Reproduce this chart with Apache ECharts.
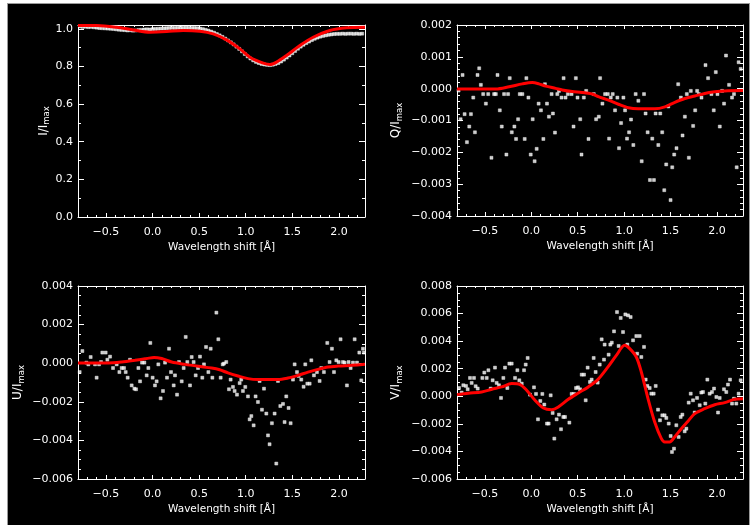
<!DOCTYPE html>
<html><head><meta charset="utf-8">
<script src="https://cdn.jsdelivr.net/npm/echarts@6/dist/echarts.min.js"></script>
<style>
html,body{margin:0;padding:0;background:#fff;}
#bg{position:absolute;left:7px;top:3px;width:743px;height:522px;background:#000;border-top:1px solid #9a9a9a;border-left:1px solid #9a9a9a;border-right:1px solid #9a9a9a;box-sizing:border-box;}
#chart{position:absolute;left:0;top:0;width:752px;height:525px;}
</style></head><body><div id="bg"></div><div id="chart"></div>
<script>
// ---------- data ----------
const xMajorTicks = [-0.5, 0.0, 0.5, 1.0, 1.5, 2.0];
const iMajorTicks = [0.0, 0.2, 0.4, 0.6, 0.8, 1.0];
const qMajorTicks = [-0.004, -0.003, -0.002, -0.001, 0.000, 0.001, 0.002];
const uMajorTicks = [-0.006, -0.004, -0.002, 0.000, 0.002, 0.004];
const vMajorTicks = [-0.006, -0.004, -0.002, 0.000, 0.002, 0.004, 0.006, 0.008];

const iX = [-0.78,-0.75,-0.72,-0.69,-0.66,-0.63,-0.60,-0.57,-0.54,-0.51,-0.48,-0.45,-0.42,-0.39,-0.36,-0.33,-0.30,-0.27,-0.24,-0.21,-0.18,-0.15,-0.12,-0.09,-0.06,-0.03,0.00,0.03,0.06,0.09,0.12,0.15,0.18,0.21,0.24,0.27,0.30,0.33,0.36,0.39,0.42,0.45,0.48,0.51,0.54,0.57,0.60,0.63,0.66,0.69,0.72,0.75,0.78,0.81,0.84,0.87,0.90,0.93,0.96,0.99,1.02,1.05,1.08,1.11,1.14,1.17,1.20,1.23,1.26,1.29,1.32,1.35,1.38,1.41,1.44,1.47,1.50,1.53,1.56,1.59,1.62,1.65,1.68,1.71,1.74,1.77,1.80,1.83,1.86,1.89,1.92,1.95,1.98,2.01,2.04,2.07,2.10,2.13,2.16,2.19,2.22,2.25];
const iY = [1.012,1.010,1.011,1.009,1.010,1.008,1.006,1.004,1.003,1.002,1.001,1.000,0.999,0.997,0.995,0.994,0.993,0.991,0.992,0.990,0.991,0.993,0.994,0.996,0.997,0.996,0.998,0.999,1.000,1.001,1.002,1.003,1.004,1.005,1.004,1.005,1.006,1.005,1.006,1.005,1.004,1.004,1.003,1.001,0.998,0.994,0.990,0.985,0.979,0.972,0.965,0.957,0.948,0.938,0.928,0.917,0.905,0.893,0.880,0.866,0.853,0.842,0.832,0.824,0.818,0.813,0.810,0.808,0.807,0.809,0.813,0.818,0.826,0.836,0.847,0.858,0.870,0.882,0.894,0.905,0.915,0.924,0.932,0.940,0.947,0.953,0.958,0.962,0.965,0.968,0.970,0.972,0.973,0.973,0.974,0.973,0.974,0.974,0.973,0.974,0.973,0.974];
const iFitX = [-0.8,-0.6,-0.385,-0.207,-0.028,0.151,0.329,0.508,0.651,0.794,0.937,1.045,1.188,1.259,1.331,1.438,1.581,1.724,1.903,2.082,2.28];
const iFitY = [1.017,1.017,1.008,0.994,0.982,0.985,0.991,0.987,0.973,0.941,0.893,0.849,0.817,0.810,0.823,0.858,0.911,0.955,0.991,1.005,1.008];

const qX = [-0.783,-0.761,-0.740,-0.718,-0.693,-0.668,-0.650,-0.625,-0.607,-0.579,-0.561,-0.543,-0.518,-0.489,-0.464,-0.429,-0.400,-0.382,-0.364,-0.339,-0.318,-0.293,-0.268,-0.250,-0.232,-0.210,-0.182,-0.164,-0.142,-0.124,-0.096,-0.071,-0.053,-0.031,-0.006,0.015,0.036,0.058,0.079,0.104,0.130,0.147,0.169,0.190,0.219,0.233,0.255,0.280,0.298,0.326,0.348,0.369,0.394,0.434,0.455,0.480,0.498,0.527,0.541,0.566,0.591,0.616,0.673,0.698,0.727,0.741,0.766,
  0.795,0.824,0.877,0.856,0.927,0.992,0.902,1.010,0.967,1.074,0.838,1.031,1.053,0.945,1.099,1.124,1.214,1.153,1.231,1.189,1.253,1.303,1.368,1.339,1.389,1.410,1.278,1.321,1.432,1.453,1.475,1.500,1.518,1.539,1.564,1.582,1.611,1.629,1.654,1.675,1.697,1.718,1.743,1.765,1.786,1.804,1.833,1.876,1.904,1.940,1.965,1.987,2.005,2.030,2.055,2.076,2.097,2.130,2.162,2.183,2.212,2.233,2.255];
const qY = [-0.00006,-0.00096,0.00043,-0.00080,-0.00168,-0.00119,-0.00080,-0.00028,-0.00137,0.00043,0.00064,0.00012,-0.00017,-0.00047,-0.00017,-0.00217,-0.00017,-0.00017,0.00043,-0.00068,-0.00119,-0.00017,-0.00207,-0.00017,0.00033,-0.00137,-0.00119,-0.00158,-0.00096,-0.00017,-0.00017,-0.00158,0.00033,-0.00028,-0.00207,-0.00096,-0.00228,-0.00189,-0.00047,-0.00068,-0.00158,0.00014,-0.00047,-0.00088,-0.00017,-0.00078,-0.00138,-0.00017,-0.00007,-0.00028,0.00033,-0.00028,-0.00017,-0.00017,-0.00119,0.00033,-0.00028,-0.00096,-0.00207,-0.00028,-0.00007,-0.00158,-0.00017,-0.00096,-0.00088,0.00033,-0.00047,
  -0.00017,-0.00017,-0.00017,-0.00028,-0.00028,-0.00028,-0.00068,-0.00068,-0.00108,-0.00097,-0.00157,-0.00157,-0.00137,-0.00187,-0.00177,-0.00017,-0.00017,-0.00038,-0.00078,-0.00228,-0.00137,-0.00157,-0.00177,-0.00078,-0.00078,-0.00137,-0.00287,-0.00287,-0.00319,-0.00238,-0.00056,-0.00350,-0.00247,-0.00207,-0.00187,0.00014,-0.00028,-0.00147,-0.00088,-0.00017,-0.00217,-0.00007,-0.00117,-0.00068,-0.00007,-0.00017,-0.00028,0.00074,0.00033,-0.00017,-0.00068,0.00052,-0.00017,-0.00119,-0.00007,-0.00047,0.00104,0.00012,-0.00028,-0.00017,-0.00247,0.00083,0.00062];
const qFitX = [-0.8,-0.382,-0.239,-0.096,0.011,0.083,0.155,0.262,0.333,0.441,0.548,0.655,0.723,0.831,0.938,1.046,1.153,1.332,1.439,1.546,1.654,1.761,1.868,1.976,2.083,2.28];
const qFitY = [-0.00001,-0.00001,0.00006,0.00015,0.00019,0.00015,0.00008,0.00001,-0.00004,-0.00009,-0.00012,-0.00017,-0.00025,-0.00036,-0.00049,-0.00060,-0.00063,-0.00063,-0.00057,-0.00043,-0.00031,-0.00023,-0.00015,-0.00010,-0.00007,-0.00006];

const uX = [-0.782,-0.753,-0.710,-0.689,-0.664,-0.617,-0.600,-0.574,-0.553,-0.539,-0.503,-0.485,-0.456,-0.424,-0.385,-0.356,-0.331,-0.306,-0.288,-0.267,-0.242,-0.224,-0.195,-0.177,-0.152,-0.134,-0.113,-0.088,-0.063,-0.045,-0.024,0.001,0.026,0.044,0.062,0.087,0.112,0.134,0.155,0.177,0.198,0.227,0.241,0.263,0.284,0.313,0.334,0.356,0.373,0.402,0.420,0.441,0.463,0.488,0.509,0.534,0.552,0.574,0.599,0.624,0.642,0.685,0.706,0.731,0.753,
  0.766,0.791,0.820,0.838,0.863,0.881,0.906,0.935,0.952,0.970,0.995,1.024,1.042,1.060,1.085,1.106,1.131,1.149,1.174,1.196,1.221,1.239,1.256,1.281,1.310,1.328,1.346,1.371,1.400,1.417,1.435,1.460,1.482,1.507,1.525,1.550,1.568,1.596,1.621,1.639,1.661,1.686,1.704,1.732,1.764,1.793,1.811,1.839,1.875,1.900,1.925,1.947,1.972,1.997,2.018,2.043,2.061,2.086,2.104,2.126,2.151,2.169,2.194,2.219,2.240,2.258,2.269];
const uY = [-0.00046,0.00063,0.00003,-0.00006,0.00032,-0.00006,-0.00075,-0.00006,0.00006,0.00055,0.00055,0.00018,0.00034,-0.00025,-0.00006,-0.00046,-0.00025,-0.00025,-0.00046,-0.00075,0.00018,-0.00115,-0.00132,-0.00135,-0.00025,-0.00094,0.00003,0.00003,-0.00063,-0.00025,0.00105,-0.00075,-0.00115,-0.00094,-0.00006,-0.00182,-0.00144,0.00003,-0.00075,0.00075,-0.00046,-0.00115,-0.00063,-0.00163,0.00006,-0.00094,-0.00025,0.00136,0.00006,-0.00115,0.00032,0.00006,-0.00063,-0.00025,0.00034,-0.00075,-0.00006,0.00084,-0.00046,0.00075,-0.00075,0.00262,0.00124,-0.00075,-0.00006,
  -0.00002,0.00006,-0.00135,-0.00085,-0.00123,-0.00144,-0.00163,-0.00103,-0.00085,-0.00144,-0.00123,-0.00172,-0.00291,-0.00274,-0.00322,-0.00172,-0.00201,-0.00092,-0.00241,-0.00132,-0.00261,-0.00374,-0.00420,-0.00311,-0.00261,-0.00520,-0.00092,-0.00222,-0.00211,-0.00305,-0.00172,-0.00232,-0.00311,-0.00085,-0.00006,-0.00046,-0.00066,-0.00085,-0.00122,-0.00006,-0.00106,-0.00106,0.00015,-0.00063,-0.00046,-0.00092,-0.00025,-0.00046,0.00105,0.00006,0.00075,-0.00046,0.00015,0.00006,0.00124,0.00006,0.00003,-0.00115,0.00006,-0.00025,0.00003,0.00124,0.00003,0.00055,-0.00089,0.00075,0.00055];
const uFitX = [-0.8,-0.474,-0.331,-0.188,-0.063,0.016,0.098,0.205,0.348,0.491,0.635,0.72,0.809,0.917,1.024,1.131,1.346,1.453,1.56,1.668,1.775,1.882,1.99,2.133,2.28];
const uFitY = [0.00001,0.00001,0.00006,0.00015,0.00024,0.00030,0.00024,0.00006,-0.00006,-0.00016,-0.00025,-0.00034,-0.00050,-0.00066,-0.00080,-0.00085,-0.00085,-0.00077,-0.00063,-0.00046,-0.00032,-0.00020,-0.00015,-0.00011,-0.00006];

const vX = [-0.804,-0.778,-0.750,-0.732,-0.703,-0.685,-0.660,-0.642,-0.617,-0.599,-0.577,-0.527,-0.506,-0.480,-0.462,-0.437,-0.416,-0.391,-0.373,-0.348,-0.326,-0.301,-0.283,-0.258,-0.236,-0.211,-0.175,-0.150,-0.129,-0.103,-0.078,-0.060,-0.039,-0.014,0.029,0.051,0.072,0.097,0.119,0.140,0.169,0.187,0.209,0.230,0.248,0.273,0.298,0.320,0.345,0.363,0.410,0.435,0.460,0.482,0.503,0.525,0.543,0.568,0.586,0.607,0.632,0.650,0.672,0.693,0.715,0.737,0.758,0.783,
  0.790,0.833,0.851,0.867,0.891,0.923,0.941,0.963,0.988,1.013,1.034,1.042,1.070,1.096,1.131,1.140,1.167,1.185,1.214,1.232,1.250,1.275,1.293,1.318,1.340,1.365,1.386,1.411,1.436,1.454,1.480,1.501,1.515,1.537,1.562,1.587,1.609,1.627,1.652,1.670,1.695,1.717,1.742,1.760,1.785,1.814,1.831,1.849,1.874,1.896,1.921,1.946,1.968,1.993,2.011,2.029,2.075,2.100,2.118,2.140,2.162,2.183,2.208,2.233,2.255];
const vY = [0.00073,0.00060,0.00027,0.00080,0.00075,0.00051,0.00133,0.00097,0.00133,0.00073,0.00056,0.00133,0.00172,0.00133,0.00189,0.00056,0.00116,0.00208,0.00097,0.00080,-0.00012,0.00133,0.00208,0.00060,0.00237,0.00237,0.00133,0.00189,0.00116,0.00092,0.00189,0.00230,0.00278,0.00012,0.00065,0.00017,-0.00167,-0.00034,0.00017,-0.00060,-0.00198,-0.00198,0.00007,-0.00121,-0.00307,-0.00167,-0.00133,-0.00239,-0.00150,-0.00150,-0.00191,0.00017,0.00017,0.00060,0.00065,0.00051,0.00157,0.00157,-0.00029,0.00208,0.00104,0.00121,0.00278,0.00176,0.00099,0.00230,0.00413,0.00266,
  0.00375,0.00302,0.00375,0.00389,0.00471,0.00611,0.00365,0.00568,0.00466,0.00594,0.00375,0.00587,0.00575,0.00406,0.00437,0.00309,0.00437,0.00285,0.00358,0.00121,0.00075,0.00060,0.00019,0.00019,0.00075,-0.00097,-0.00174,-0.00138,-0.00138,-0.00157,-0.00198,-0.00288,-0.00404,-0.00380,-0.00210,-0.00295,-0.00150,-0.00133,-0.00254,-0.00235,-0.00046,0.00019,-0.00029,-0.00118,-0.00012,-0.00065,0.00027,0.00031,-0.00053,0.00121,0.00019,0.00031,0.00056,-0.00005,-0.00118,-0.00012,0.00051,0.00031,0.00085,0.00121,-0.00053,-0.00017,-0.00053,0.00019,0.00116];
const vFitX = [-0.8,-0.678,-0.534,-0.427,-0.319,-0.211,-0.121,-0.05,0.04,0.13,0.219,0.291,0.399,0.507,0.614,0.719,0.826,0.916,1.006,1.06,1.131,1.185,1.257,1.329,1.401,1.437,1.49,1.544,1.616,1.688,1.76,1.867,1.975,2.083,2.19,2.28];
const vFitY = [0.00012,0.00022,0.00031,0.00051,0.00068,0.00092,0.00085,0.00044,-0.00029,-0.00085,-0.00097,-0.00077,-0.00022,0.00024,0.00068,0.00123,0.00213,0.00297,0.00370,0.00346,0.00285,0.00176,-0.00017,-0.00186,-0.00307,-0.00331,-0.00331,-0.00295,-0.00235,-0.00181,-0.00126,-0.00090,-0.00061,-0.00046,-0.00022,-0.00017];

// ---------- layout / style ----------
const FONT = "'DejaVu Sans', sans-serif";
const WHITE = '#ffffff';
const X_MIN = -0.8, X_MAX = 2.28;

const panels = [
  {lab:'I', x:iX, y:iY, fx:iFitX, fy:iFitY, ymin:0, ymax:1.02, major:iMajorTicks, minorStep:0.1, dec:1,
   grid:{left:78, top:25, width:287, height:192}, gap:26},
  {lab:'Q', x:qX, y:qY, fx:qFitX, fy:qFitY, ymin:-0.004, ymax:0.002, major:qMajorTicks, minorStep:0.0002, dec:3,
   grid:{left:457, top:25, width:286, height:191}, gap:53},
  {lab:'U', x:uX, y:uY, fx:uFitX, fy:uFitY, ymin:-0.006, ymax:0.004, major:uMajorTicks, minorStep:0.0005, dec:3,
   grid:{left:78, top:286, width:287, height:193}, gap:52},
  {lab:'V', x:vX, y:vY, fx:vFitX, fy:vFitY, ymin:-0.006, ymax:0.008, major:vMajorTicks, minorStep:0.0005, dec:3,
   grid:{left:457, top:286, width:286, height:193}, gap:53}
];

function fmt(d) {
  return function (v) {
    if (Math.abs(v) < 1e-12) v = 0;
    return (v < 0 ? '\u2212' : '') + Math.abs(v).toFixed(d);
  };
}
function stepsIn(lo, hi, step) {
  const a = [];
  const n0 = Math.ceil(lo / step - 1e-9), n1 = Math.floor(hi / step + 1e-9);
  for (let i = n0; i <= n1; i++) a.push(+(i * step).toFixed(7));
  return a;
}
const xMinorTicks = stepsIn(X_MIN, X_MAX, 0.1);

const grids = [], xAxes = [], yAxes = [], series = [];
panels.forEach(function (p, g) {
  grids.push(Object.assign({containLabel:false}, p.grid));
  const yMinor = stepsIn(p.ymin, p.ymax, p.minorStep);
  function ax(pos, ticks, len, line, labels, isX) {
    return {
      gridIndex: g, type: 'value', position: pos,
      min: isX ? X_MIN : p.ymin, max: isX ? X_MAX : p.ymax,
      splitLine: {show:false},
      axisLine: {show: line, onZero: false, lineStyle: {color: WHITE, width: 1}},
      axisTick: {show: true, inside: true, length: len, customValues: ticks, lineStyle: {color: WHITE, width: 1}},
      axisLabel: {show: labels, customValues: ticks, color: WHITE, fontFamily: FONT, fontSize: 11,
                  margin: isX ? 10 : 5, formatter: fmt(isX ? 1 : p.dec)},
      axisPointer: {show:false}
    };
  }
  const xb = ax('bottom', xMajorTicks, 4, true, true, true);
  xb.name = 'Wavelength shift [\u00C5]';
  xb.nameLocation = 'middle';
  xb.nameGap = 25;
  xb.nameTextStyle = {color: WHITE, fontFamily: FONT, fontSize: 10.5};
  xAxes.push(xb,
             ax('bottom', xMinorTicks, 2, false, false, true),
             ax('top', xMajorTicks, 4, true, false, true),
             ax('top', xMinorTicks, 2, false, false, true));
  const yl = ax('left', p.major, 6, true, true, false);
  yl.name = '{a|' + p.lab + '/I}{s|max}';
  yl.nameLocation = 'middle';
  yl.nameRotate = 90;
  yl.nameGap = p.gap;
  yl.nameTextStyle = {color: WHITE, fontFamily: FONT, fontSize: 12,
    rich: {a: {color: WHITE, fontFamily: FONT, fontSize: 12, lineHeight: 16},
           s: {color: WHITE, fontFamily: FONT, fontSize: 8.5, lineHeight: 9, verticalAlign: 'bottom'}}};
  yAxes.push(yl,
             ax('left', yMinor, 3, false, false, false),
             ax('right', p.major, 6, true, false, false),
             ax('right', yMinor, 3, false, false, false));

  series.push({
    type: 'scatter', xAxisIndex: 4 * g, yAxisIndex: 4 * g,
    data: p.x.map(function (v, i) { return [v, p.y[i]]; }),
    symbol: 'rect', symbolSize: 3,
    itemStyle: {color: '#ffffff', borderColor: '#ffffff', borderWidth: 0.5},
    silent: true, animation: false, z: 2
  });
  series.push({
    type: 'line', xAxisIndex: 4 * g, yAxisIndex: 4 * g,
    data: p.fx.map(function (v, i) { return [v, p.fy[i]]; }),
    symbol: 'none', smooth: 0.3,
    lineStyle: {color: '#ff0000', width: 3},
    silent: true, animation: false, z: 3
  });
});

const chart = echarts.init(document.getElementById('chart'), null, {renderer: 'canvas'});
chart.setOption({
  backgroundColor: 'transparent',
  animation: false,
  grid: grids,
  xAxis: xAxes,
  yAxis: yAxes,
  series: series
});
</script></body></html>
